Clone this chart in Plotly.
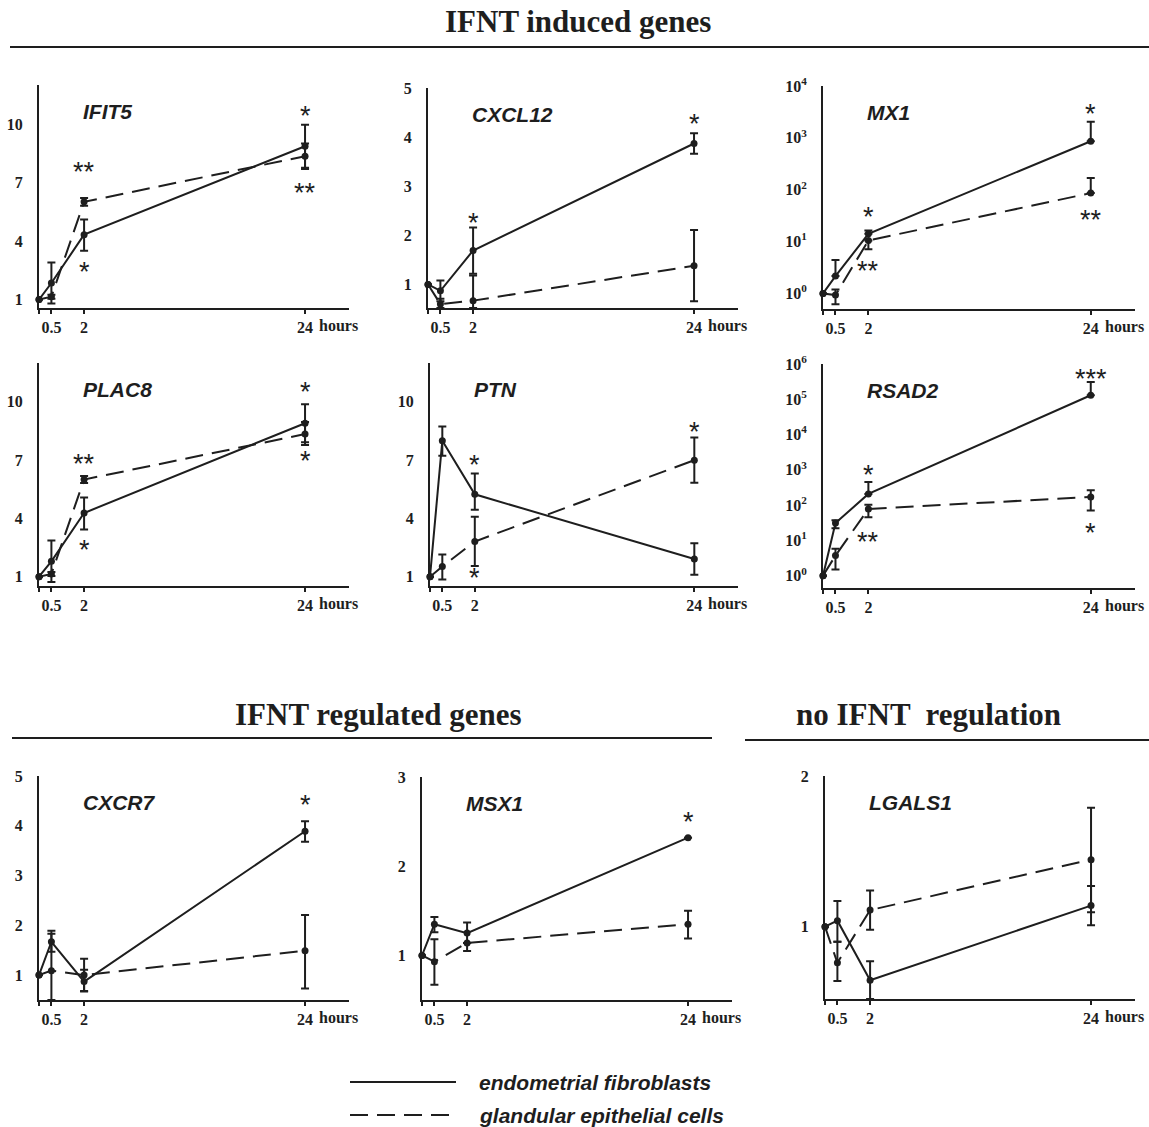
import math
import plotly.graph_objects as go

# ---------------- data ----------------
TIME_LABELS = ["0", "0.5", "2", "24"]          # hours
SERIES_NAMES = ["endometrial fibroblasts", "glandular epithelial cells"]

# IFIT5
IFIT5_FIB = [1.0, 1.85, 4.33, 8.86]
IFIT5_FIB_UP = [0, 1.05, 0.78, 1.10]
IFIT5_FIB_DN = [0, 1.05, 0.82, 1.10]
IFIT5_GEC = [1.0, 1.15, 6.01, 8.35]
IFIT5_GEC_UP = [0, 0.10, 0.20, 0.65]
IFIT5_GEC_DN = [0, 0.10, 0.20, 0.65]
IFIT5_SIG = [("2", 7.9, "**"), ("2", 2.75, "*"), ("24", 10.75, "*"), ("24", 6.8, "**")]

# CXCL12
CXCL12_FIB = [1.0, 0.87, 1.69, 3.87]
CXCL12_FIB_UP = [0, 0.21, 0.47, 0.21]
CXCL12_FIB_DN = [0, 0.21, 0.47, 0.21]
CXCL12_GEC = [1.0, 0.60, 0.67, 1.38]
CXCL12_GEC_UP = [0, 0.11, 0.51, 0.73]
CXCL12_GEC_DN = [0, 0.11, 0.51, 0.72]
CXCL12_SIG = [("2", 2.4, "*"), ("24", 4.4, "*")]

# MX1 (log scale)
MX1_FIB = [1.0, 2.16, 14.1, 861]
MX1_FIB_UP = [0, 2.24, 2.2, 1180]
MX1_FIB_DN = [0, 0, 0, 0]
MX1_GEC = [1.0, 0.93, 10.5, 86]
MX1_GEC_UP = [0, 0.26, 0, 82]
MX1_GEC_DN = [0, 0.31, 3.4, 0]
MX1_SIG = [("2", 10 ** 1.6, "*"), ("2", 10 ** 0.56, "**"), ("24", 10 ** 3.6, "*"), ("24", 10 ** 1.56, "**")]

# PLAC8
PLAC8_FIB = [1.0, 1.79, 4.28, 8.90]
PLAC8_FIB_UP = [0, 1.07, 0.80, 0.98]
PLAC8_FIB_DN = [0, 1.07, 0.85, 0.98]
PLAC8_GEC = [1.0, 1.14, 6.00, 8.34]
PLAC8_GEC_UP = [0, 0.10, 0.18, 0.62]
PLAC8_GEC_DN = [0, 0.10, 0.18, 0.56]
PLAC8_SIG = [("2", 7.15, "**"), ("2", 2.75, "*"), ("24", 10.85, "*"), ("24", 7.3, "*")]

# PTN
PTN_FIB = [1.0, 8.00, 5.24, 1.91]
PTN_FIB_UP = [0, 0.73, 1.07, 0.81]
PTN_FIB_DN = [0, 0.78, 0.80, 0.81]
PTN_GEC = [1.0, 1.52, 2.81, 7.00]
PTN_GEC_UP = [0, 0.62, 1.27, 1.17]
PTN_GEC_DN = [0, 0.66, 1.26, 1.17]
PTN_SIG = [("2", 7.1, "*"), ("2", 1.3, "*"), ("24", 8.8, "*")]

# RSAD2 (log scale)
RSAD2_FIB = [1.0, 31, 207, 1.3e5]
RSAD2_FIB_UP = [0, 6, 246, 1.8e5]
RSAD2_FIB_DN = [0, 9, 0, 0]
RSAD2_GEC = [1.0, 3.7, 78, 170]
RSAD2_GEC_UP = [0, 2.1, 25, 93]
RSAD2_GEC_DN = [0, 2.2, 33, 100]
RSAD2_SIG = [("2", 10 ** 3.05, "*"), ("2", 10 ** 1.15, "**"), ("24", 10 ** 5.78, "***"), ("24", 10 ** 1.42, "*")]

# CXCR7
CXCR7_FIB = [1.0, 1.67, 0.87, 3.89]
CXCR7_FIB_UP = [0, 0.22, 0.24, 0.20]
CXCR7_FIB_DN = [0, 0.20, 0.19, 0.21]
CXCR7_GEC = [1.0, 1.09, 1.00, 1.49]
CXCR7_GEC_UP = [0, 0.74, 0.33, 0.72]
CXCR7_GEC_DN = [0, 0.74, 0.33, 0.76]
CXCR7_SIG = [("24", 4.55, "*")]

# MSX1
MSX1_FIB = [1.0, 1.35, 1.25, 2.32]
MSX1_FIB_UP = [0, 0.08, 0.12, 0.0]
MSX1_FIB_DN = [0, 0.09, 0.11, 0.0]
MSX1_GEC = [1.0, 0.93, 1.14, 1.35]
MSX1_GEC_UP = [0, 0.25, 0.0, 0.15]
MSX1_GEC_DN = [0, 0.26, 0.09, 0.16]
MSX1_SIG = [("24", 2.57, "*")]

# LGALS1
LGALS1_FIB = [1.0, 1.04, 0.645, 1.14]
LGALS1_FIB_UP = [0, 0.13, 0.125, 0.13]
LGALS1_FIB_DN = [0, 0.14, 0.125, 0.13]
LGALS1_GEC = [1.0, 0.76, 1.11, 1.445]
LGALS1_GEC_UP = [0, 0.14, 0.13, 0.345]
LGALS1_GEC_DN = [0, 0.12, 0.13, 0.35]
LGALS1_SIG = []

SECTION_TITLES = ["IFNT induced genes", "IFNT regulated genes", "no IFNT  regulation"]

# ---------------- layout helpers ----------------
W, H = 1149, 1127
INK = "#1e1e1e"
SERIF = "Liberation Serif"
SANS = "Liberation Sans"
DASH = "18px,9px"

# broken time axis: display position of each time point (axis units)
TIME_POS = {"0": 0.0, "0.5": 0.55, "2": 2.0, "24": 11.8}
X_RANGE = [0, 13.75]


def fx(p):
    return p / W


def fy(p):
    return 1 - p / H


PANELS = [
    dict(gene="IFIT5", fib=(IFIT5_FIB, IFIT5_FIB_UP, IFIT5_FIB_DN), gec=(IFIT5_GEC, IFIT5_GEC_UP, IFIT5_GEC_DN),
         sig=IFIT5_SIG, x=(39, 349), y=(85, 308), log=False, yr=[0.57, 12], ticks=[1, 4, 7, 10]),
    dict(gene="CXCL12", fib=(CXCL12_FIB, CXCL12_FIB_UP, CXCL12_FIB_DN), gec=(CXCL12_GEC, CXCL12_GEC_UP, CXCL12_GEC_DN),
         sig=CXCL12_SIG, x=(428, 738), y=(88, 308), log=False, yr=[0.52, 5], ticks=[1, 2, 3, 4, 5]),
    dict(gene="MX1", fib=(MX1_FIB, MX1_FIB_UP, MX1_FIB_DN), gec=(MX1_GEC, MX1_GEC_UP, MX1_GEC_DN),
         sig=MX1_SIG, x=(823, 1135), y=(86, 309), log=True, yr=[-0.3, 4], ticks=[0, 1, 2, 3, 4]),
    dict(gene="PLAC8", fib=(PLAC8_FIB, PLAC8_FIB_UP, PLAC8_FIB_DN), gec=(PLAC8_GEC, PLAC8_GEC_UP, PLAC8_GEC_DN),
         sig=PLAC8_SIG, x=(39, 349), y=(363, 586), log=False, yr=[0.52, 12], ticks=[1, 4, 7, 10]),
    dict(gene="PTN", fib=(PTN_FIB, PTN_FIB_UP, PTN_FIB_DN), gec=(PTN_GEC, PTN_GEC_UP, PTN_GEC_DN),
         sig=PTN_SIG, x=(430, 738), y=(363, 586), log=False, yr=[0.52, 12], ticks=[1, 4, 7, 10]),
    dict(gene="RSAD2", fib=(RSAD2_FIB, RSAD2_FIB_UP, RSAD2_FIB_DN), gec=(RSAD2_GEC, RSAD2_GEC_UP, RSAD2_GEC_DN),
         sig=RSAD2_SIG, x=(823, 1135), y=(364, 588), log=True, yr=[-0.35, 6], ticks=[0, 1, 2, 3, 4, 5, 6]),
    dict(gene="CXCR7", fib=(CXCR7_FIB, CXCR7_FIB_UP, CXCR7_FIB_DN), gec=(CXCR7_GEC, CXCR7_GEC_UP, CXCR7_GEC_DN),
         sig=CXCR7_SIG, x=(39, 349), y=(776, 1000), log=False, yr=[0.5, 5], ticks=[1, 2, 3, 4, 5]),
    dict(gene="MSX1", fib=(MSX1_FIB, MSX1_FIB_UP, MSX1_FIB_DN), gec=(MSX1_GEC, MSX1_GEC_UP, MSX1_GEC_DN),
         sig=MSX1_SIG, x=(422, 732), y=(777, 1000), log=False, yr=[0.5, 3], ticks=[1, 2, 3]),
    dict(gene="LGALS1", fib=(LGALS1_FIB, LGALS1_FIB_UP, LGALS1_FIB_DN), gec=(LGALS1_GEC, LGALS1_GEC_UP, LGALS1_GEC_DN),
         sig=LGALS1_SIG, x=(825, 1135), y=(776, 999), log=False, yr=[0.52, 2], ticks=[1, 2]),
]

fig = go.Figure()
annotations = []
shapes = []
layout_axes = {}

xpos = [TIME_POS[t] for t in TIME_LABELS]
tick_font = dict(family=SERIF, size=16, color=INK, weight="bold")

for i, p in enumerate(PANELS, start=1):
    xa = "x" if i == 1 else f"x{i}"
    ya = "y" if i == 1 else f"y{i}"
    ymin_val = 10 ** p["yr"][0] if p["log"] else p["yr"][0]

    for (vals, up, dn), dash in ((p["gec"], DASH), (p["fib"], "solid")):
        # keep error bars from running below the x axis
        dn_clip = [min(d, v - ymin_val) for v, d in zip(vals, dn)]
        fig.add_trace(go.Scatter(
            x=xpos, y=vals, xaxis=xa, yaxis=ya, mode="lines+markers",
            line=dict(color=INK, width=2, dash=dash),
            marker=dict(color=INK, size=7),
            error_y=dict(type="data", symmetric=False, array=up, arrayminus=dn_clip,
                         color=INK, thickness=2, width=4),
            cliponaxis=False, showlegend=False, hoverinfo="skip",
        ))

    if p["log"]:
        tickvals = [10 ** k for k in p["ticks"]]
        ticktext = [f"10<sup>{k}</sup>" for k in p["ticks"]]
        ytype = "log"
    else:
        tickvals = p["ticks"]
        ticktext = [str(k) for k in p["ticks"]]
        ytype = "linear"

    axis_common = dict(showgrid=False, zeroline=False, showline=True, linecolor=INK, linewidth=2,
                       tickcolor=INK, tickfont=tick_font, automargin=False)
    layout_axes[xa.replace("x", "xaxis")] = dict(
        axis_common, domain=[fx(p["x"][0]), fx(p["x"][1])], range=X_RANGE,
        anchor=ya, tickmode="array", tickvals=xpos, ticktext=["", "0.5", "2", "24"],
        ticks="outside", ticklen=4, tickwidth=1.5, ticklabelstandoff=0)
    layout_axes[ya.replace("y", "yaxis")] = dict(
        axis_common, domain=[fy(p["y"][1]), fy(p["y"][0])], range=p["yr"], type=ytype,
        anchor=xa, tickmode="array", tickvals=tickvals, ticktext=ticktext,
        ticks="", ticklabelstandoff=11)

    # "hours" after the 24 tick label
    annotations.append(dict(text="<b>hours</b>", x=TIME_POS["24"], y=0, xref=xa, yref=f"{ya} domain",
                            xanchor="left", yanchor="top", xshift=12, yshift=-7, showarrow=False,
                            font=dict(family=SERIF, size=16, color=INK)))
    # gene name
    annotations.append(dict(text=f"<b><i>{p['gene']}</i></b>", x=0.135, y=0.88,
                            xref=f"{xa} domain", yref=f"{ya} domain",
                            xanchor="left", yanchor="middle", showarrow=False,
                            font=dict(family=SANS, size=21, color=INK)))
    # significance stars
    for t, yv, txt in p["sig"]:
        annotations.append(dict(text=txt, x=TIME_POS[t], y=(math.log10(yv) if p["log"] else yv),
                                xref=xa, yref=ya, xanchor="center", yanchor="middle", yshift=-7,
                                showarrow=False, font=dict(family=SANS, size=27, color=INK)))

# section titles and rules
for txt, cx, cy in ((SECTION_TITLES[0], 578, 22), (SECTION_TITLES[1], 378, 714), (SECTION_TITLES[2], 928, 714)):
    annotations.append(dict(text=f"<b>{txt}</b>", x=fx(cx), y=fy(cy), xref="paper", yref="paper",
                            xanchor="center", yanchor="middle", showarrow=False,
                            font=dict(family=SERIF, size=31, color=INK)))
for x0, x1, yy in ((10, 1149, 47), (12, 712, 738), (745, 1149, 740)):
    shapes.append(dict(type="line", xref="paper", yref="paper", x0=fx(x0), x1=fx(x1), y0=fy(yy), y1=fy(yy),
                       line=dict(color=INK, width=2)))

# legend (drawn manually to match the long line samples)
for name, dash, yy in ((SERIES_NAMES[0], "solid", 1082), (SERIES_NAMES[1], DASH, 1115)):
    shapes.append(dict(type="line", xref="paper", yref="paper", x0=fx(350), x1=fx(456), y0=fy(yy), y1=fy(yy),
                       line=dict(color=INK, width=2, dash=dash)))
    annotations.append(dict(text=f"<b><i>{name}</i></b>", x=fx(477), y=fy(yy), xref="paper", yref="paper",
                            xanchor="left", yanchor="middle", showarrow=False,
                            font=dict(family=SANS, size=21, color=INK)))

fig.update_layout(
    width=W, height=H, margin=dict(l=0, r=0, t=0, b=0, pad=0, autoexpand=False),
    paper_bgcolor="white", plot_bgcolor="white",
    annotations=annotations, shapes=shapes, showlegend=False,
    **layout_axes,
)

fig.write_html("out.html", config={"displayModeBar": False},
               post_script="document.body.style.margin='0px';")
